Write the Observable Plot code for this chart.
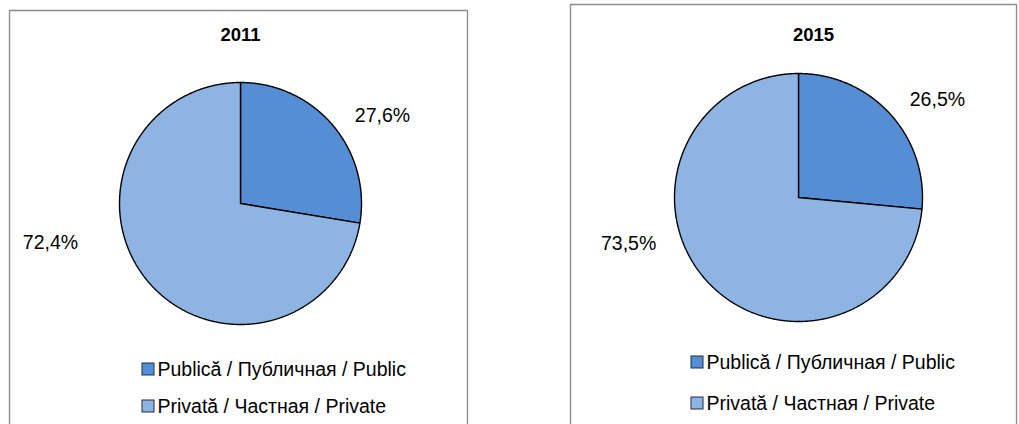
<!DOCTYPE html>
<html>
<head>
<meta charset="utf-8">
<script src="https://cdn.jsdelivr.net/npm/d3@7"></script>
<script src="https://cdn.jsdelivr.net/npm/@observablehq/plot@0.6"></script>
<style>
  html, body { margin: 0; padding: 0; background: #fff; }
</style>
</head>
<body>
<div id="chart"></div>
<script>
// ---- data ----
const years = ["2011", "2015"];
const categories = ["Publică / Публичная / Public", "Privată / Частная / Private"];
const publicShare = [27.6, 26.5];
const privateShare = [72.4, 73.5];
const sliceColors = ["#558ED5", "#8EB4E3"];

// ---- layout (pixel space) ----
const W = 1019, H = 424;
const panels = [
  { cx: 240, cy: 203, r: 121, titleX: 240, titleY: 35, box: [9, 10, 467], legendX: 148, legendY: [369, 406],
    labelPolar: [[58.2, 167], [258.4, 194]] },
  { cx: 798, cy: 197, r: 124, titleX: 813, titleY: 35, box: [570, 4, 1016], legendX: 697, legendY: [362, 403],
    labelPolar: [[54.8, 170], [254.9, 176]] }
];
const font = "Liberation Sans, Arial, sans-serif";
const fmt = v => v.toFixed(1).replace(".", ",") + "%";

// ---- build geometry from data ----
const slicePts = [], labelRows = [], titleRows = [], legendRows = [], borderPts = [];
years.forEach((yr, i) => {
  const p = panels[i];
  const vals = [publicShare[i], privateShare[i]];
  const arcs = d3.pie().sort(null).value(d => d)(vals);
  arcs.forEach((a, k) => {
    const key = yr + "-" + k;
    const pts = [[p.cx, p.cy]];
    const n = Math.max(2, Math.ceil((a.endAngle - a.startAngle) / 0.005));
    for (let j = 0; j <= n; j++) {
      const t = a.startAngle + (a.endAngle - a.startAngle) * j / n;
      pts.push([p.cx + p.r * Math.sin(t), p.cy - p.r * Math.cos(t)]);
    }
    pts.push([p.cx, p.cy]);
    pts.forEach(([x, y]) => slicePts.push({ key, x, y, fill: sliceColors[k] }));
    const [ang, dist] = p.labelPolar[k];
    const rad = ang * Math.PI / 180;
    labelRows.push({ x: p.cx + dist * Math.sin(rad), y: p.cy - dist * Math.cos(rad), text: fmt(vals[k]) });
    legendRows.push({ x: p.legendX, y: p.legendY[k], text: categories[k], fill: sliceColors[k] });
  });
  titleRows.push({ x: p.titleX, y: p.titleY, text: yr });
  const [bx1, by, bx2] = p.box;
  [[bx1, H + 5], [bx1, by], [bx2, by], [bx2, H + 5]].forEach(([x, y]) => borderPts.push({ key: yr, x, y }));
});

const chart = Plot.plot({
  width: W, height: H,
  margin: 0,
  x: { domain: [0, W], range: [0, W], axis: null },
  y: { domain: [0, H], range: [0, H], axis: null },
  color: { type: "identity" },
  style: { fontFamily: font, background: "#fff" },
  marks: [
    Plot.line(borderPts, { x: "x", y: "y", z: "key", stroke: "#8c8c8c", strokeWidth: 1.3 }),
    Plot.line(slicePts, { x: "x", y: "y", z: "key", fill: "fill", stroke: "#000", strokeWidth: 1.4, strokeLinejoin: "miter" }),
    Plot.text(titleRows, { x: "x", y: "y", text: "text", fontSize: 18.5, fontWeight: "bold", fill: "#000" }),
    Plot.text(labelRows, { x: "x", y: "y", text: "text", fontSize: 19.5, fill: "#000" }),
    Plot.rect(legendRows, { x1: d => d.x - 6, x2: d => d.x + 6, y1: d => d.y - 6, y2: d => d.y + 6, fill: "fill", stroke: "#1f2f45", strokeWidth: 1 }),
    Plot.text(legendRows, { x: d => d.x + 9, y: "y", text: "text", textAnchor: "start", fontSize: 19.5, fill: "#000" })
  ]
});
document.getElementById("chart").appendChild(chart);
</script>
</body>
</html>
